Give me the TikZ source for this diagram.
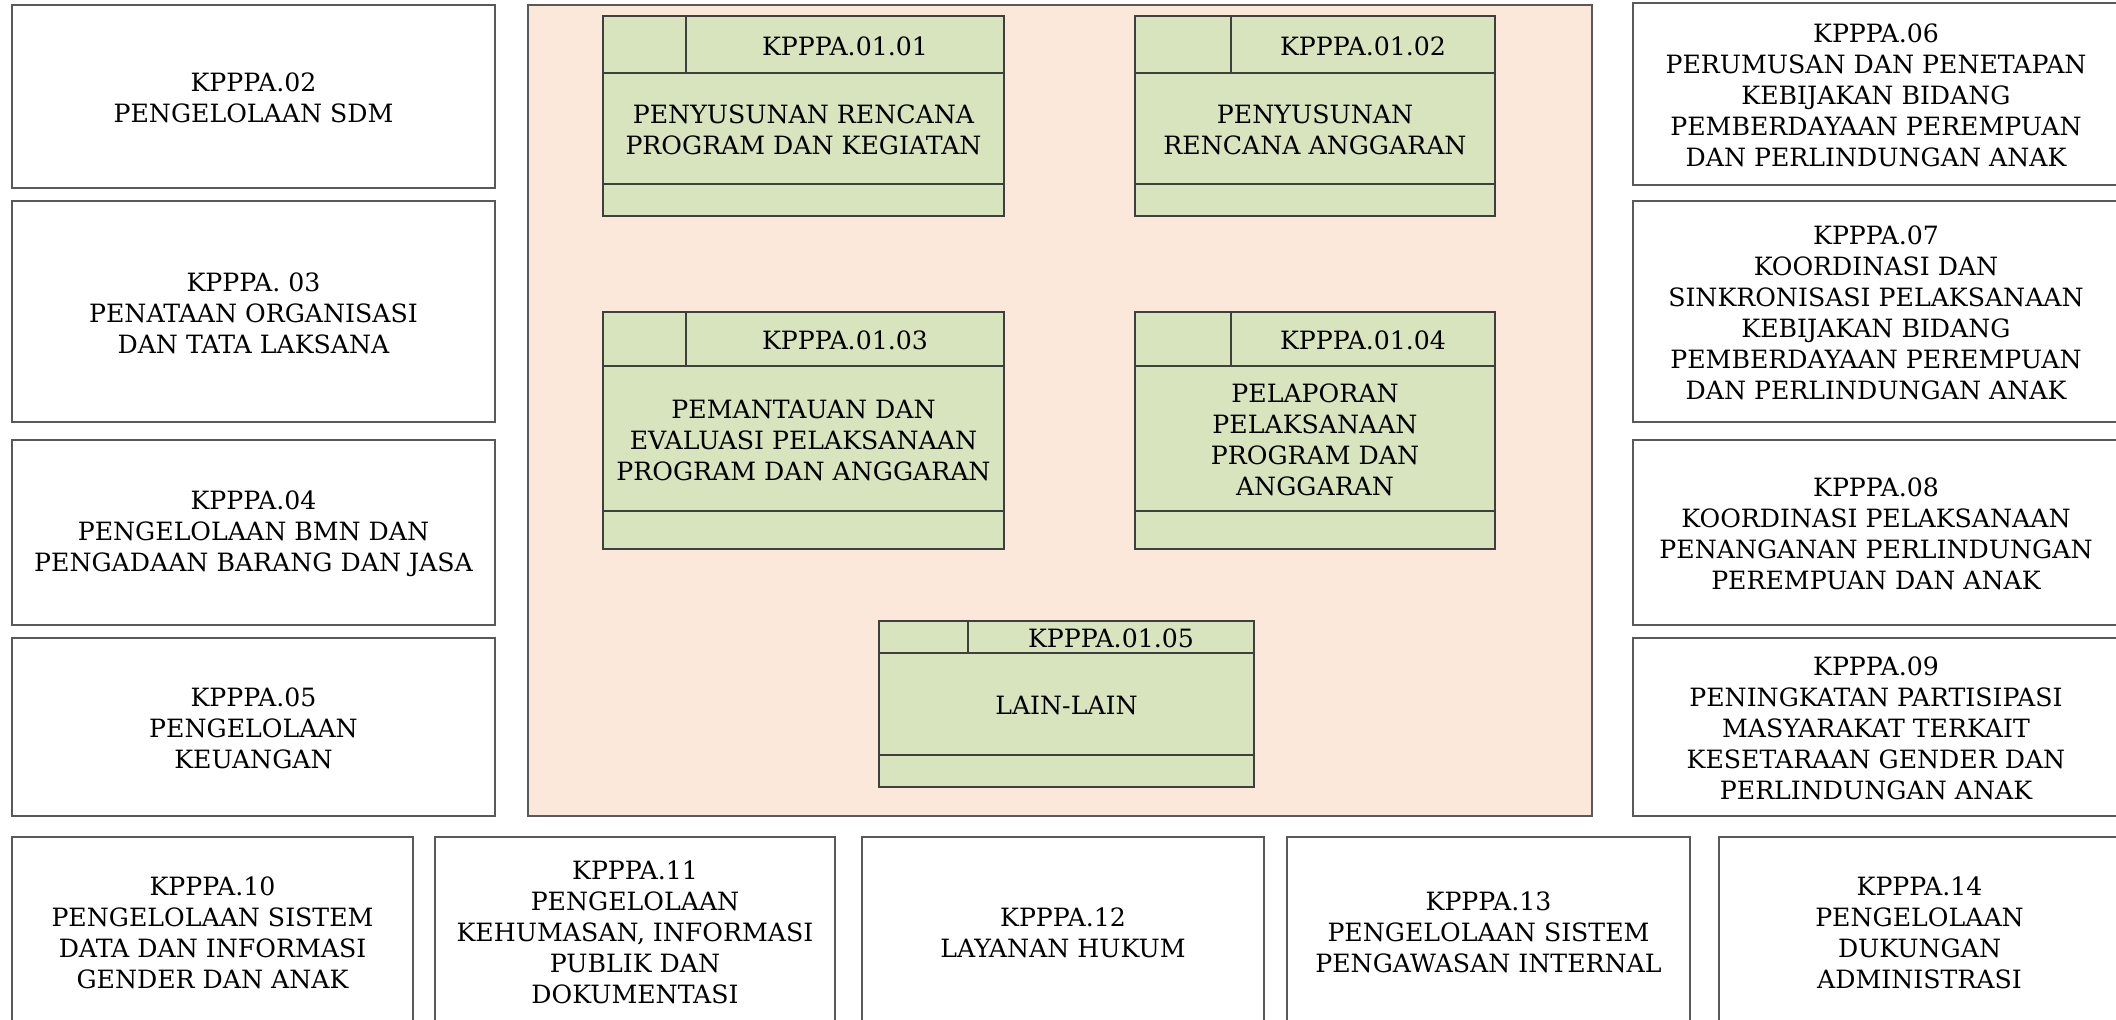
\documentclass[tikz,border=0pt]{standalone}
\usepackage{fontspec}
\setmainfont{DejaVu Serif}
\definecolor{peach}{HTML}{FCE8DA}
\definecolor{olive}{HTML}{D7E4BD}
\definecolor{bord}{HTML}{595959}
\definecolor{gbord}{HTML}{3F3F3F}
\tikzset{
  txt/.style={inner sep=0pt, align=center, font=\fontsize{12.6pt}{15.5pt}\selectfont, text=black},
  wbox/.style={txt, draw=bord, line width=0.6pt, fill=white, text depth=0pt},
  obox/.style={draw=bord, line width=0.6pt, fill=peach, inner sep=0pt},
  gboxst/.style={draw=gbord, line width=0.8pt, fill=olive, inner sep=0pt},
  gline/.style={draw=gbord, line width=0.7pt},
}
\newcommand\pbox[6]{%
  \node[wbox, minimum width={(#4-#2)*0.5pt}, minimum height={(#5-#3)*0.5pt}] (#1) at ({(#2+#4)/2},{(#3+#5)/2}) {};
  \node[txt] (#1t) at ([yshift=-0.8pt]#1.center) {#6};}
\newcommand\gbox[9]{%
  \node[gboxst, minimum width={(#4-#2)*0.5pt}, minimum height={(#5-#3)*0.5pt}] (#1) at ({(#2+#4)/2},{(#3+#5)/2}) {};
  \draw[gline] (#2,#6) -- (#4,#6);
  \draw[gline] (#7,#3) -- (#7,#6);
  \draw[gline] (#2,#8) -- (#4,#8);
  \node[txt, yshift=-0.8pt] (#1h) at ({(#7+#4)/2},{(#3+#6)/2}) {#9};}
\begin{document}
\begin{tikzpicture}[x=0.5pt,y=-0.5pt]
\useasboundingbox (0,0) rectangle (2116,1019);
\begin{scope}
\clip (0,0) rectangle (2116,1019);
% left column
\pbox{k02}{12}{5}{495}{188}{KPPPA.02\\PENGELOLAAN SDM}
\pbox{k03}{12}{201}{495}{422}{KPPPA. 03\\PENATAAN ORGANISASI\\DAN TATA LAKSANA}
\pbox{k04}{12}{440}{495}{625}{KPPPA.04\\PENGELOLAAN BMN DAN\\PENGADAAN BARANG DAN JASA}
\pbox{k05}{12}{638}{495}{816}{KPPPA.05\\PENGELOLAAN\\KEUANGAN}
% right column
\pbox{k06}{1633}{3}{2119}{185}{KPPPA.06\\PERUMUSAN DAN PENETAPAN\\KEBIJAKAN BIDANG\\PEMBERDAYAAN PEREMPUAN\\DAN PERLINDUNGAN ANAK}
\pbox{k07}{1633}{201}{2119}{422}{KPPPA.07\\KOORDINASI DAN\\SINKRONISASI PELAKSANAAN\\KEBIJAKAN BIDANG\\PEMBERDAYAAN PEREMPUAN\\DAN PERLINDUNGAN ANAK}
\pbox{k08}{1633}{440}{2119}{625}{KPPPA.08\\KOORDINASI PELAKSANAAN\\PENANGANAN PERLINDUNGAN\\PEREMPUAN DAN ANAK}
\pbox{k09}{1633}{638}{2119}{816}{KPPPA.09\\PENINGKATAN PARTISIPASI\\MASYARAKAT TERKAIT\\KESETARAAN GENDER DAN\\PERLINDUNGAN ANAK}
% bottom row
\pbox{k10}{12}{837}{413}{1025}{KPPPA.10\\PENGELOLAAN SISTEM\\DATA DAN INFORMASI\\GENDER DAN ANAK}
\pbox{k11}{435}{837}{835}{1025}{KPPPA.11\\PENGELOLAAN\\KEHUMASAN, INFORMASI\\PUBLIK DAN\\DOKUMENTASI}
\pbox{k12}{862}{837}{1264}{1025}{KPPPA.12\\LAYANAN HUKUM}
\pbox{k13}{1287}{837}{1690}{1025}{KPPPA.13\\PENGELOLAAN SISTEM\\PENGAWASAN INTERNAL}
\pbox{k14}{1719}{837}{2120}{1025}{KPPPA.14\\PENGELOLAAN\\DUKUNGAN\\ADMINISTRASI}
% central container
\node[obox, minimum width={(1592-528)*0.5pt}, minimum height={(816-5)*0.5pt}] (k01) at ({(528+1592)/2},{(5+816)/2}) {};
\gbox{g1}{603}{16}{1004}{216}{73}{686}{184}{KPPPA.01.01}
\node[txt, yshift=-0.8pt] (g1b) at ({(603+1004)/2},{(73+184)/2}) {PENYUSUNAN RENCANA\\PROGRAM DAN KEGIATAN};
\gbox{g2}{1135}{16}{1495}{216}{73}{1231}{184}{KPPPA.01.02}
\node[txt, yshift=-0.8pt] (g2b) at ({(1135+1495)/2},{(73+184)/2}) {PENYUSUNAN\\RENCANA ANGGARAN};
\gbox{g3}{603}{312}{1004}{549}{366}{686}{511}{KPPPA.01.03}
\node[txt, yshift=-0.8pt] (g3b) at ({(603+1004)/2},{(366+511)/2}) {PEMANTAUAN DAN\\EVALUASI PELAKSANAAN\\PROGRAM DAN ANGGARAN};
\gbox{g4}{1135}{312}{1495}{549}{366}{1231}{511}{KPPPA.01.04}
\node[txt, yshift=-0.8pt] (g4b) at ({(1135+1495)/2},{(366+511)/2}) {PELAPORAN\\PELAKSANAAN\\PROGRAM DAN\\ANGGARAN};
\gbox{g5}{879}{621}{1254}{787}{653}{968}{755}{KPPPA.01.05}
\node[txt, yshift=-0.8pt] (g5b) at ({(879+1254)/2},{(653+755)/2}) {LAIN-LAIN};
\end{scope}
\end{tikzpicture}
\end{document}
